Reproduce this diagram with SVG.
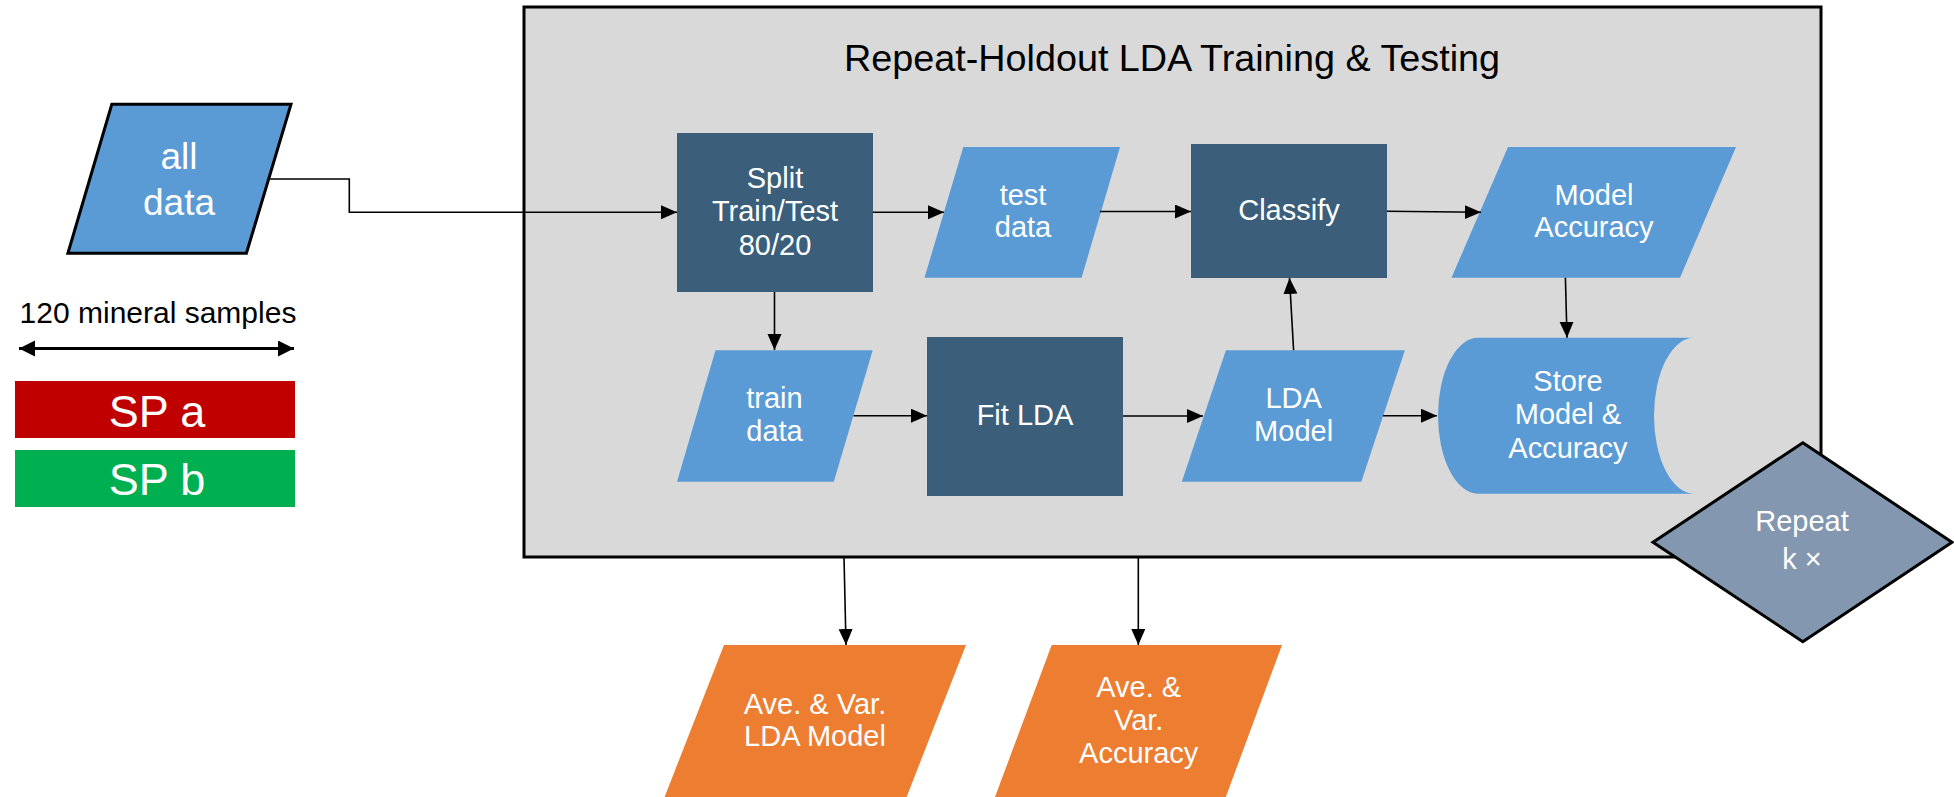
<svg xmlns="http://www.w3.org/2000/svg" width="1954" height="797" viewBox="0 0 1954 797">
  <defs>
    <style>
      text { font-family: "Liberation Sans", Arial, sans-serif; text-anchor: middle; }
      .lbl { fill: #ffffff; font-size: 29px; }
      .data { fill: #5B9BD5; }
      .proc { fill: #3B5F7A; }
      .out { fill: #ED7D31; }
      .edge { fill: none; stroke: #000000; stroke-width: 1.6; marker-end: url(#arrow); }
    </style>
    <marker id="arrow" markerUnits="userSpaceOnUse" markerWidth="17" markerHeight="15" refX="16" refY="7" orient="auto">
      <path d="M0,0 L16,7 L0,14 Z" fill="#000000"/>
    </marker>
    <marker id="arrowBig" markerUnits="userSpaceOnUse" markerWidth="17" markerHeight="17" refX="16" refY="8" orient="auto-start-reverse">
      <path d="M0,0 L16,8 L0,16 Z" fill="#000000"/>
    </marker>
  </defs>

  <rect width="1954" height="797" fill="#ffffff"/>

  <!-- repeat-holdout container -->
  <g id="container">
    <rect x="524" y="7" width="1297" height="550" fill="#D9D9D9" stroke="#000000" stroke-width="3"/>
    <text x="1172" y="71" font-size="36" fill="#000000" textLength="656" lengthAdjust="spacingAndGlyphs">Repeat-Holdout LDA Training &amp; Testing</text>
  </g>

  <!-- legend -->
  <g id="legend">
    <text x="158" y="323" font-size="30" fill="#000000">120 mineral samples</text>
    <line x1="19" y1="348.5" x2="294" y2="348.5" stroke="#000000" stroke-width="3" marker-start="url(#arrowBig)" marker-end="url(#arrowBig)"/>
  </g>
  <g id="sp-a">
    <rect x="15" y="381" width="280" height="57" fill="#C00000"/>
    <text x="157" y="427" font-size="45" fill="#ffffff">SP a</text>
  </g>
  <g id="sp-b">
    <rect x="15" y="450" width="280" height="57" fill="#00B050"/>
    <text x="157" y="495" font-size="45" fill="#ffffff">SP b</text>
  </g>

  <!-- nodes -->
  <g id="all-data">
    <polygon points="111.8,104.3 291,104.3 246.4,253.3 67.9,253.3" class="data" stroke="#000000" stroke-width="3"/>
    <text x="179" y="169" font-size="37" fill="#ffffff">all</text>
    <text x="179" y="215" font-size="37" fill="#ffffff">data</text>
  </g>

  <g id="split">
    <rect x="677" y="133" width="196" height="159" class="proc"/>
    <text class="lbl" x="775" y="188">Split</text>
    <text class="lbl" x="775" y="221">Train/Test</text>
    <text class="lbl" x="775" y="255">80/20</text>
  </g>

  <g id="test-data">
    <polygon points="963.3,147 1120,147 1081.6,277.7 924.5,277.7" class="data"/>
    <text class="lbl" x="1023" y="205">test</text>
    <text class="lbl" x="1023" y="237">data</text>
  </g>

  <g id="classify">
    <rect x="1191" y="144" width="196" height="134" class="proc"/>
    <text class="lbl" x="1289" y="220">Classify</text>
  </g>

  <g id="model-accuracy">
    <polygon points="1508,147 1736,147 1680,277.7 1451.5,277.7" class="data"/>
    <text class="lbl" x="1594" y="205">Model</text>
    <text class="lbl" x="1594" y="237">Accuracy</text>
  </g>

  <g id="train-data">
    <polygon points="715.5,350.3 872.7,350.3 833.8,481.7 677,481.7" class="data"/>
    <text class="lbl" x="774.5" y="408">train</text>
    <text class="lbl" x="774.5" y="441">data</text>
  </g>

  <g id="fit-lda">
    <rect x="927" y="337" width="196" height="159" class="proc"/>
    <text class="lbl" x="1025" y="425">Fit LDA</text>
  </g>

  <g id="lda-model">
    <polygon points="1225.9,350.3 1404.9,350.3 1361.3,481.7 1181.8,481.7" class="data"/>
    <text class="lbl" x="1293.6" y="408">LDA</text>
    <text class="lbl" x="1293.6" y="441">Model</text>
  </g>

  <g id="store">
    <path d="M1478,337.7 H1694 A40,78 0 0 0 1694,493.7 H1478 A40,78 0 0 1 1478,337.7 Z" class="data"/>
    <text class="lbl" x="1568" y="391">Store</text>
    <text class="lbl" x="1568" y="423.5">Model &amp;</text>
    <text class="lbl" x="1568" y="458">Accuracy</text>
  </g>

  <g id="repeat">
    <polygon points="1802.8,442.7 1952,542.3 1802.8,641.7 1653,542.3" fill="#8497B0" stroke="#000000" stroke-width="3"/>
    <text class="lbl" x="1802" y="531" font-size="31">Repeat</text>
    <text class="lbl" x="1802" y="569" font-size="31">k ×</text>
  </g>

  <g id="avg-lda-model">
    <polygon points="724,645 966,645 906.6,797 664.6,797" class="out"/>
    <text class="lbl" x="815" y="714">Ave. &amp; Var.</text>
    <text class="lbl" x="815" y="746">LDA Model</text>
  </g>

  <g id="avg-accuracy">
    <polygon points="1051.7,645 1282,645 1225.8,797 995,797" class="out"/>
    <text class="lbl" x="1138.7" y="697">Ave. &amp;</text>
    <text class="lbl" x="1138.7" y="730">Var.</text>
    <text class="lbl" x="1138.7" y="763">Accuracy</text>
  </g>

  <!-- connectors -->
  <g id="connectors">
    <polyline class="edge" points="268.6,179 349.3,179 349.3,212.3 677,212.3"/>
    <line class="edge" x1="873" y1="212.3" x2="944" y2="212.3"/>
    <line class="edge" x1="1100" y1="211.5" x2="1191" y2="211.5"/>
    <line class="edge" x1="1387" y1="211.3" x2="1481" y2="212.3"/>
    <line class="edge" x1="774.5" y1="292" x2="774.5" y2="350"/>
    <line class="edge" x1="853.5" y1="415.7" x2="927" y2="415.7"/>
    <line class="edge" x1="1123" y1="416" x2="1203" y2="416"/>
    <line class="edge" x1="1383" y1="415.7" x2="1437" y2="415.7"/>
    <line class="edge" x1="1293.6" y1="350.3" x2="1289.5" y2="278"/>
    <line class="edge" x1="1565.4" y1="277.7" x2="1567" y2="337.7"/>
    <line class="edge" x1="844" y1="557" x2="846" y2="645"/>
    <line class="edge" x1="1138.3" y1="557" x2="1138.3" y2="645"/>
  </g>
</svg>
